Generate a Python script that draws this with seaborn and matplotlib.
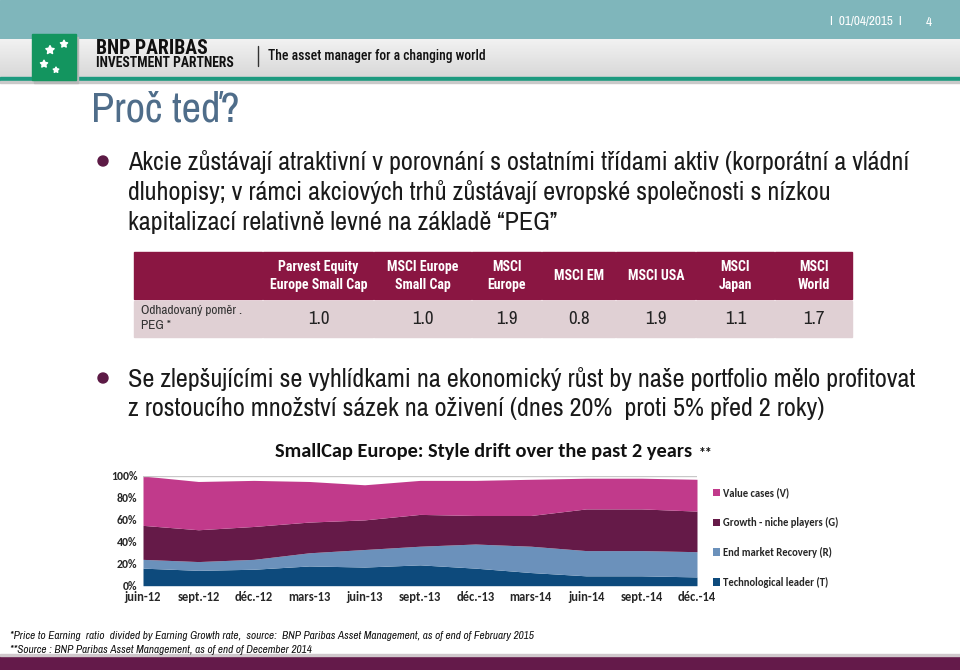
import numpy as np
import seaborn as sns
import matplotlib.pyplot as plt
from matplotlib.colors import LinearSegmentedColormap
from matplotlib.patches import Rectangle, Circle

## data
dates = ['juin-12', 'sept.-12', 'déc.-12', 'mars-13', 'juin-13', 'sept.-13',
         'déc.-13', 'mars-14', 'juin-14', 'sept.-14', 'déc.-14']
tech_leader = [16, 14, 15, 18, 17, 19, 16, 12, 9, 9, 8]
end_market = [8, 8, 9, 12, 16, 17, 22, 24, 23, 23, 23]
growth_niche = [31, 29, 30, 28, 27, 29, 26, 28, 38, 38, 37]
value_cases = [45, 44, 42, 37, 32, 31, 32, 33, 28, 28, 29]
series_names = ['Technological leader (T)', 'End market Recovery (R)',
                'Growth - niche players (G)', 'Value cases (V)']
series_colors = ['#0d4a7c', '#6b91bb', '#651a48', '#c13a8b']

table_cols = ['Parvest Equity\nEurope Small Cap', 'MSCI Europe\nSmall Cap', 'MSCI\nEurope',
              'MSCI EM', 'MSCI USA', 'MSCI\nJapan', 'MSCI\nWorld']
peg_values = [1.0, 1.0, 1.9, 0.8, 1.9, 1.1, 1.7]

sns.set_theme(style='white')
plt.rcParams['font.family'] = ['Liberation Sans', 'DejaVu Sans']
narrow = ['Archivo Narrow', 'Liberation Sans', 'DejaVu Sans']
bcond = ['Roboto Condensed', 'Barlow Semi Condensed', 'Asap Condensed', 'DejaVu Sans']
cal = ['Carlito', 'Lato', 'DejaVu Sans']

fig = plt.figure(figsize=(9.6, 6.7), dpi=100)
bg = fig.add_axes([0, 0, 1, 1])
bg.set_xlim(0, 960)
bg.set_ylim(670, 0)
bg.axis('off')

# header bands
bg.add_patch(Rectangle((0, 0), 960, 39, color='#7fb6bb', zorder=1))
grad = np.linspace(0, 1, 100).reshape(-1, 1)
bg.imshow(grad, extent=(0, 960, 77, 39), cmap=LinearSegmentedColormap.from_list(
    'g', ['#f2f2f2', '#d8d8d8']), aspect='auto', zorder=1)
bg.add_patch(Rectangle((0, 77), 960, 4, color='#1d9a7f', zorder=2))
bg.add_patch(Rectangle((0, 81), 960, 2, color='#c9c9c9', zorder=2))
bg.add_patch(Rectangle((34, 37), 44, 46, color='#b8b8b8', zorder=2))
bg.add_patch(Rectangle((32, 34), 44, 46, color='#13955f', zorder=3))
bg.scatter([50, 64, 44, 56], [50, 44, 64, 70], marker=(5, 1, 0), s=[40, 30, 30, 18],
           color='white', zorder=4)
bg.text(96, 48, 'BNP PARIBAS', fontsize=14.2, fontweight='bold', family=bcond,
        color='#111111', va='center')
bg.text(96, 63, 'INVESTMENT PARTNERS', fontsize=9.8, fontweight='bold', family=bcond,
        color='#111111', va='center')
bg.plot([258, 258], [46, 66], color='#333333', lw=1, zorder=3)
bg.text(268, 56, 'The asset manager for a changing world', fontsize=9.8, family=bcond,
        color='#111111', va='center', fontweight='medium')
bg.text(902, 22, 'I  01/04/2015  I', fontsize=9.5, color='white', ha='right', va='center', family=narrow)
bg.text(932, 22, '4', fontsize=9.5, color='white', ha='right', va='center', family=narrow)

# title and bullets
bg.text(91, 110, 'Proč teď?', fontsize=30.5, color='#4f6d8a', va='center', family=narrow)
bullet_col = '#5c1a45'
lines1 = ['Akcie zůstávají atraktivní v porovnání s ostatními třídami aktiv (korporátní a vládní',
          'dluhopisy; v rámci akciových trhů zůstávají evropské společnosti s nízkou',
          'kapitalizací relativně levné na základě “PEG”']
lines2 = ['Se zlepšujícími se vyhlídkami na ekonomický růst by naše portfolio mělo profitovat',
          'z rostoucího množství sázek na oživení (dnes 20%  proti 5% před 2 roky)']
for i, t in enumerate(lines1):
    bg.text(128, 162 + 30 * i, t, fontsize=18.8, color='#1a1a1a', va='center', family=narrow)
for i, t in enumerate(lines2):
    bg.text(128, 379 + 30 * i, t, fontsize=18.8, color='#1a1a1a', va='center', family=narrow)
bg.add_patch(Circle((103, 161), 5, color=bullet_col, zorder=3))
bg.add_patch(Circle((103, 378), 5, color=bullet_col, zorder=3))

# table
col_edges = [134, 263, 374, 472, 542, 616, 696, 775, 853]
head_col = '#8a1642'
row_col = '#e0d0d4'
for j in range(len(col_edges) - 1):
    x0, x1 = col_edges[j], col_edges[j + 1]
    bg.add_patch(Rectangle((x0, 252), x1 - x0 - 1.5, 47, color=head_col, zorder=2))
    bg.add_patch(Rectangle((x0, 300.5), x1 - x0 - 1.5, 36, color=row_col, zorder=2))
for j, name in enumerate(table_cols):
    xc = (col_edges[j + 1] + col_edges[j + 2]) / 2
    bg.text(xc, 276, name, fontsize=10, fontweight='bold', color='white', ha='center',
            va='center', family=bcond, linespacing=1.3, zorder=3)
    bg.text(xc, 319, f'{peg_values[j]:.1f}', fontsize=13.5, color='#222222', ha='center',
            va='center', family=narrow, zorder=3)
bg.text(141, 318, 'Odhadovaný poměr .\nPEG *', fontsize=9.5, color='#333333', va='center',
        family=narrow, linespacing=1.45, zorder=3)

# chart title
bg.text(484, 451, 'SmallCap Europe: Style drift over the past 2 years', fontsize=14.7,
        fontweight='bold', family=cal, ha='center', va='center', color='#111111')
bg.text(699, 453, '**', fontsize=10, family=cal, fontweight='bold', ha='left', va='center',
        color='#111111')

# footer
bg.text(10, 636, '*Price to Earning  ratio  divided by Earning Growth rate,  source:  BNP Paribas '
        'Asset Management, as of end of February 2015', fontsize=8.1, style='italic',
        family=narrow, va='center', color='#111111')
bg.text(10, 650, '**Source : BNP Paribas Asset Management, as of end of December 2014',
        fontsize=8.1, style='italic', family=narrow, va='center', color='#111111')
bg.add_patch(Rectangle((0, 656), 960, 14, color='#641a4a', zorder=2))
bg.add_patch(Rectangle((0, 654), 960, 2, color='#d0c8cc', zorder=2))

# stacked area chart
ax = fig.add_axes([143 / 960, (670 - 585.7) / 670, (697 - 143) / 960, (585.7 - 476) / 670])
x = np.arange(len(dates))
ax.stackplot(x, tech_leader, end_market, growth_niche, value_cases,
             colors=series_colors, labels=series_names, lw=0)
ax.set_xlim(0, len(dates) - 1)
ax.set_ylim(0, 100)
ax.axhline(100, color='#c8c8c8', lw=1)
ax.set_yticks([0, 20, 40, 60, 80, 100])
ax.set_yticklabels([f'{v}%' for v in [0, 20, 40, 60, 80, 100]], fontsize=8.5,
                   fontweight='bold', family=cal)
ax.set_xticks(x)
ax.set_xticklabels(dates, fontsize=9, fontweight='bold', family=cal)
ax.tick_params(axis='both', length=0, pad=4)
sns.despine(ax=ax, left=True, bottom=True, top=True, right=True)
ax.patch.set_alpha(0)
handles, labels = ax.get_legend_handles_labels()
ax.legend(handles[::-1], labels[::-1], loc='center left', bbox_to_anchor=(1.011, 0.44),
          frameon=False, handlelength=0.7, handleheight=0.7, handletextpad=0.3,
          labelspacing=1.75, prop={'family': cal, 'weight': 'bold', 'size': 7.7})

fig.savefig('out.png', dpi=100)
